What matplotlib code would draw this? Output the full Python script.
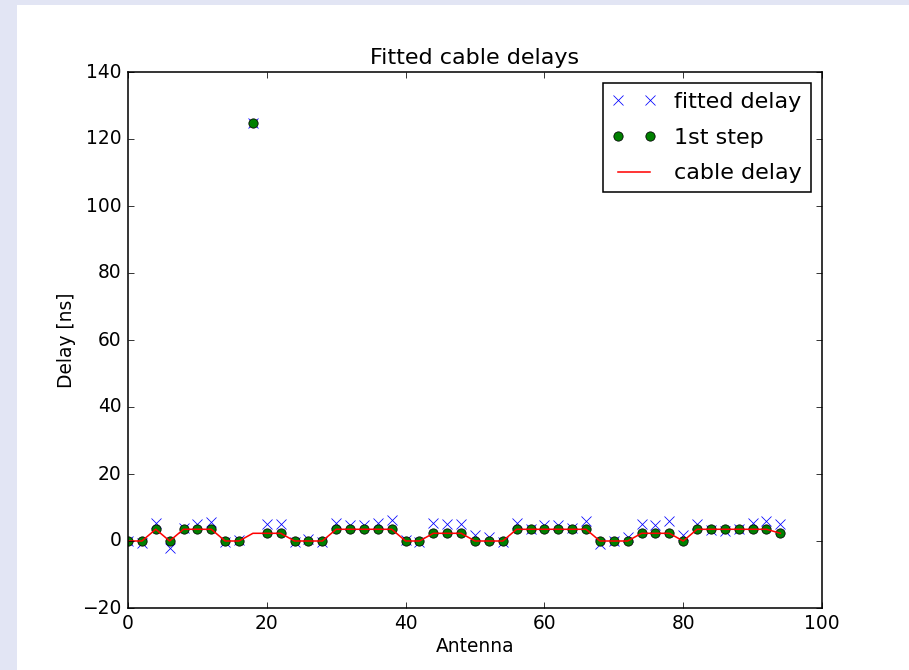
import numpy as np
import matplotlib
matplotlib.use("Agg")
import matplotlib.pyplot as plt
from matplotlib.patches import Rectangle

plt.style.use("classic")

# Antenna indices (every second antenna)
antennas = list(range(0, 96, 2))

# Cable delays [ns]
cable_delay = [0, 0, 3.5, 0, 3.5, 3.5, 3.5, 0, 0, 2.3, 2.3, 2.3,
               0, 0, 0, 3.5, 3.5, 3.5, 3.5, 3.5, 0, 0, 2.3, 2.3,
               2.3, 0, 0, 0, 3.5, 3.5, 3.5, 3.5, 3.5, 3.5, 0, 0,
               0, 2.3, 2.3, 2.3, 0, 3.5, 3.5, 3.5, 3.5, 3.5, 3.5, 2.3]

# Result of the first fitting step [ns]
first_step = [0, 0, 3.5, 0, 3.5, 3.5, 3.5, 0, 0, 124.7, 2.3, 2.3,
              0, 0, 0, 3.5, 3.5, 3.5, 3.5, 3.5, 0, 0, 2.3, 2.3,
              2.3, 0, 0, 0, 3.5, 3.5, 3.5, 3.5, 3.5, 3.5, 0, 0,
              0, 2.3, 2.3, 2.3, 0, 3.5, 3.5, 3.5, 3.5, 3.5, 3.5, 2.3]

# Fitted delays [ns]
fitted_delay = [0.0, -0.5, 5.5, -2.0, 4.0, 5.1, 5.7, -0.4, 0.4, 124.7, 5.1, 5.1,
                -0.3, 0.5, -0.3, 5.5, 4.7, 4.7, 5.5, 6.3, 0.2, -0.2, 5.5, 5.1,
                5.1, 1.8, 1.2, -0.2, 5.5, 3.6, 4.7, 4.8, 3.9, 5.9, -1.0, 0.1,
                1.2, 5.1, 4.7, 5.9, 1.7, 5.1, 3.4, 3.1, 3.6, 5.5, 6.0, 5.1]

dpi = 111.6
fig = plt.figure(figsize=(910 / dpi, 670 / dpi), dpi=dpi)
fig.patch.set_facecolor("#e2e5f4")
fig.patches.append(Rectangle((17 / 910, 0), 1 - 17 / 910, 1 - 5 / 670,
                             transform=fig.transFigure, facecolor="white",
                             edgecolor="none", zorder=-10))

ax = fig.add_axes([128 / 910, 62 / 670, 694 / 910, 536 / 670])
ax.plot(antennas, fitted_delay, "bx", label="fitted delay")
ax.plot(antennas, first_step, "go", label="1st step")
ax.plot(antennas, cable_delay, "r-", label="cable delay")

ax.set_xlim(0, 100)
ax.set_ylim(-20, 140)
ax.set_xticks(np.arange(0, 101, 20))
ax.set_yticks(np.arange(-20, 141, 20))
ax.set_xlabel("Antenna", labelpad=2.5)
ax.set_ylabel("Delay [ns]", labelpad=4)
ax.set_title("Fitted cable delays")
ax.legend(loc="upper right", numpoints=2, labelspacing=0.7, borderpad=0.4)

fig.savefig("out.png", dpi=dpi, facecolor=fig.get_facecolor())
